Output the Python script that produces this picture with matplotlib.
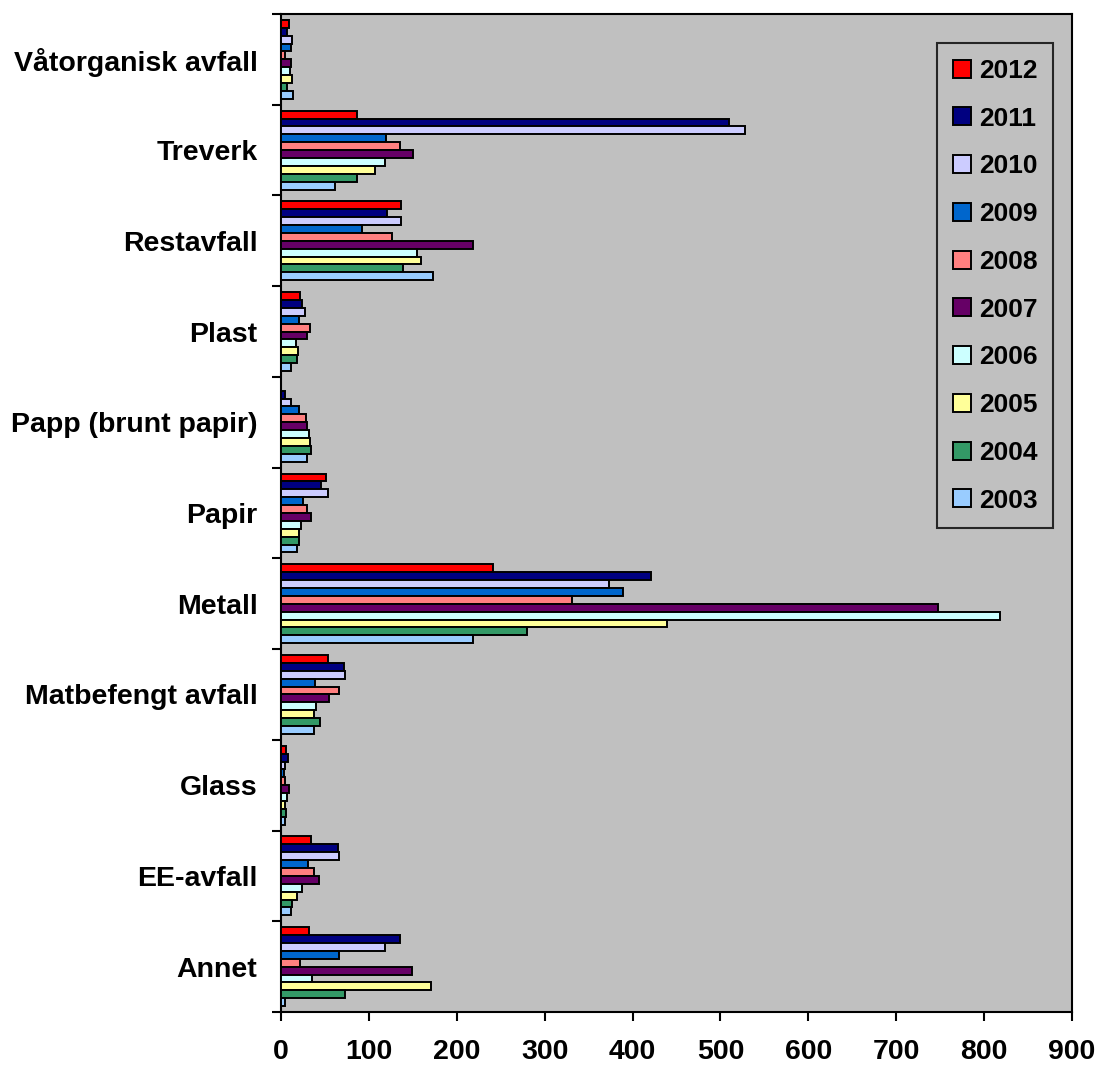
import matplotlib
matplotlib.use("Agg")
import matplotlib.pyplot as plt
from matplotlib.patches import Patch
import numpy as np

plt.rcParams['font.family'] = ['Liberation Sans', 'DejaVu Sans']
plt.rcParams['font.weight'] = 'bold'

# Categories, bottom to top
categories = ["Annet", "EE-avfall", "Glass", "Matbefengt avfall", "Metall", "Papir",
              "Papp (brunt papir)", "Plast", "Restavfall", "Treverk", "Våtorganisk avfall"]

years = ["2012", "2011", "2010", "2009", "2008", "2007", "2006", "2005", "2004", "2003"]

# values per year, in category order (bottom to top)
v2012 = [32, 34, 6, 53, 241, 51, 0, 22, 137, 87, 9]
v2011 = [135, 65, 8, 72, 421, 46, 5, 24, 121, 510, 7]
v2010 = [118, 66, 4, 73, 373, 54, 11, 27, 137, 528, 13]
v2009 = [66, 31, 3, 39, 389, 25, 20, 20, 92, 119, 11]
v2008 = [22, 38, 4.5, 66, 331, 30, 29, 33, 126, 135, 5]
v2007 = [149, 43, 9.5, 55, 747, 34, 30, 30, 219, 150, 11]
v2006 = [35, 24, 6.5, 40, 818, 23, 32, 17, 155, 118, 10]
v2005 = [171, 18, 5, 38, 439, 21, 33, 19, 159, 107, 12.5]
v2004 = [73, 13, 5.5, 44, 280, 21, 34, 18, 139, 86, 6.5]
v2003 = [5, 11, 4, 38, 219, 18, 30, 11, 173, 62, 14]

series = [v2012, v2011, v2010, v2009, v2008, v2007, v2006, v2005, v2004, v2003]
colors = ["#FF0000", "#000080", "#CCCCFF", "#0066CC", "#FF8080",
          "#660066", "#CCFFFF", "#FFFF99", "#339966", "#99CCFF"]

xticks = [0, 100, 200, 300, 400, 500, 600, 700, 800, 900]

fig = plt.figure(figsize=(10.98, 10.68), dpi=100)
ax = fig.add_axes([281/1098, 1 - 1012/1068, (1072-281)/1098, (1012-14)/1068])
ax.set_facecolor("#C0C0C0")

h = 0.087
y = np.arange(len(categories))
for j, (vals, c) in enumerate(zip(series, colors)):
    ax.barh(y + (4.5 - j) * h, vals, height=h, color=c, edgecolor="black",
            linewidth=1.4, zorder=3)

ax.set_xlim(0, 900)
ax.set_ylim(-0.5, len(categories) - 0.5)

ax.set_xticks(xticks)
ax.set_xticklabels([str(t) for t in xticks], fontsize=20.5, fontweight='bold')
ax.tick_params(axis='x', direction='out', length=6.5, width=1.5, pad=13, colors='black')

ax.set_yticks(np.arange(-0.5, len(categories), 1.0))
ax.set_yticklabels([])
ax.set_yticks(y, minor=True)
ax.set_yticklabels(categories, minor=True, fontsize=20.5, fontweight='bold')
ax.tick_params(axis='y', which='major', direction='out', length=6.5, width=1.5)
ax.tick_params(axis='y', which='minor', length=0, pad=17)

for s in ax.spines.values():
    s.set_color("black")
    s.set_linewidth(1.5)

handles = [Patch(facecolor=c, edgecolor="black", linewidth=1.4) for c in colors]
leg = ax.legend(handles, years, loc="upper left",
                bbox_to_anchor=((937-281)/791, 1 - (43-14)/998),
                borderaxespad=0, frameon=True, fancybox=False,
                prop={'size': 19, 'weight': 'bold'},
                handlelength=0.68, handleheight=0.68, handletextpad=0.3,
                labelspacing=0.9, borderpad=0.6)
leg.get_frame().set_facecolor("#C0C0C0")
leg.get_frame().set_edgecolor("black")
leg.get_frame().set_linewidth(1.5)

fig.savefig("out.png", dpi=100, facecolor="white")
